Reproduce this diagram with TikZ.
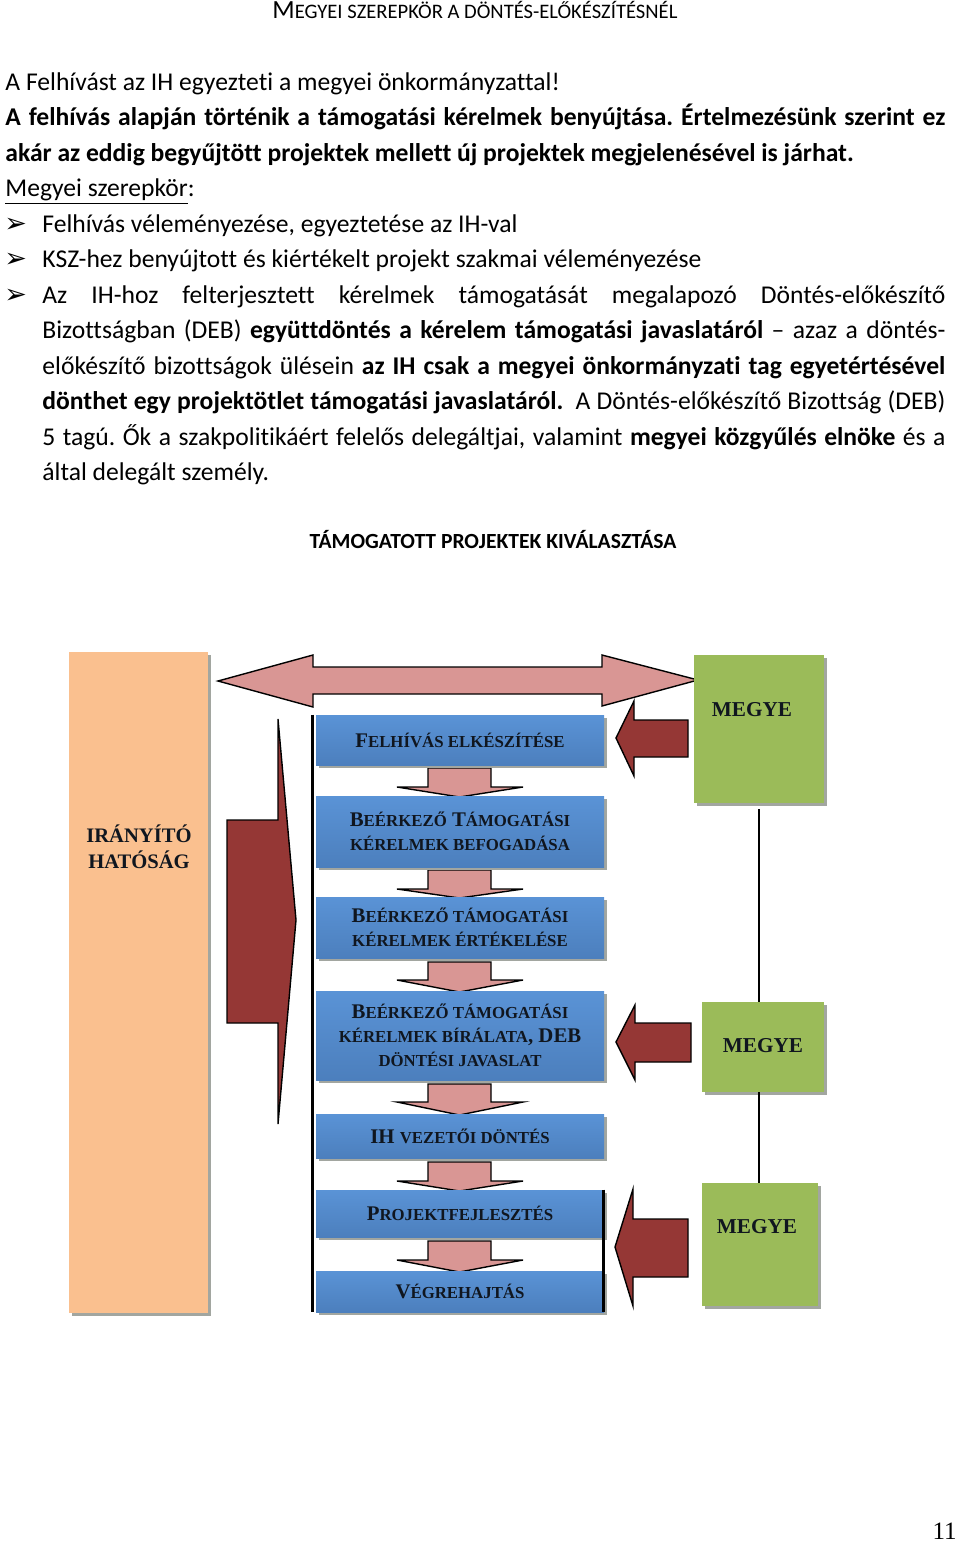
\documentclass[tikz,border=0pt]{standalone}
\usepackage{fontspec}
\setmainfont{Carlito}[Ligatures={NoCommon}]
\newfontfamily\tnr{Liberation Serif}
\newfontfamily\dejavu{DejaVu Sans}
\usetikzlibrary{shadows}
\frenchspacing
\definecolor{peach}{HTML}{FAC08F}
\definecolor{pinkarrow}{HTML}{D99694}
\definecolor{darkred}{HTML}{953735}
\definecolor{megyegreen}{HTML}{9BBB59}
\definecolor{blueT}{HTML}{5A93D6}
\definecolor{blueB}{HTML}{4C7FBD}
\definecolor{shadowgray}{HTML}{A2A6A0}
\definecolor{navytext}{HTML}{10161F}
\newcommand\BC[1]{{\fontsize{10.4}{12}\selectfont #1}}
\newcommand\SC[1]{{\fontsize{8.4}{12}\selectfont #1}}
\tikzset{
  body/.style={anchor=base west, inner sep=0pt, font=\fontsize{12.8}{14}\selectfont},
  bul/.style={anchor=base west, inner sep=0pt, font=\dejavu\bfseries\fontsize{13.5}{14}\selectfont},
  shd/.style={general shadow={shadow xshift=1.5pt, shadow yshift=-1.6pt, fill=shadowgray}},
  bbox/.style={shd, top color=blueT, bottom color=blueB, draw=none, minimum width=144pt,
    inner sep=0pt, align=center, text=navytext, font=\tnr\bfseries\fontsize{10.4}{12}\selectfont},
  gbox/.style={shd, fill=megyegreen, draw=none, inner sep=0pt},
  gtext/.style={inner sep=0pt, text=navytext, font=\tnr\bfseries\fontsize{10.6}{13}\selectfont},
  pinkarr/.style={fill=pinkarrow, draw=black, line width=0.7pt, line join=miter},
  redarr/.style={fill=darkred, draw=black, line width=0.7pt, line join=miter},
}
\begin{document}
\begin{tikzpicture}[x=0.5pt,y=-0.5pt]
\useasboundingbox (0,0) rectangle (960,1543);

% ---------- text part ----------
\node[anchor=base, inner sep=0pt] (title) at (475,18)
  {{\fontsize{13.1}{15}\selectfont M}{\fontsize{10.3}{15}\selectfont EGYEI SZEREPKÖR A DÖNTÉS-ELŐKÉSZÍTÉSNÉL}};

\node[body] (l1) at (5,90) {A Felhívást az IH egyezteti a megyei önkormányzattal!};
\node[body] (l2) at (5,125.5) {\bfseries\makebox[470pt][s]{A felhívás alapján történik a támogatási kérelmek benyújtása. Értelmezésünk szerint ez}};
\node[body] (l3) at (5,161) {\bfseries akár az eddig begyűjtött projektek mellett új projektek megjelenésével is járhat.};
\node[body] (l4) at (5,196.5) {\underline{Megyei szerepkör}:};

\node[bul] (b1) at (4,232) {➢};
\node[body] (t1) at (42,232) {Felhívás véleményezése, egyeztetése az IH-val};
\node[bul] (b2) at (4,267.5) {➢};
\node[body] (t2) at (42,267.5) {KSZ-hez benyújtott és kiértékelt projekt szakmai véleményezése};
\node[bul] (b3) at (4,303) {➢};
\node[body] (t3a) at (42,303) {\makebox[451.5pt][s]{Az IH-hoz felterjesztett kérelmek támogatását megalapozó Döntés-előkészítő}};
\node[body] (t3b) at (42,338.5) {\makebox[451.5pt][s]{Bizottságban (DEB) \textbf{együttdöntés a kérelem támogatási javaslatáról} – azaz a döntés-}};
\node[body] (t3c) at (42,374) {\makebox[451.5pt][s]{előkészítő bizottságok ülésein \textbf{az IH csak a megyei önkormányzati tag egyetértésével}}};
\node[body] (t3d) at (42,409.5) {\makebox[451.5pt][s]{\textbf{dönthet egy projektötlet támogatási javaslatáról.}\ \ A Döntés-előkészítő Bizottság (DEB)}};
\node[body] (t3e) at (42,445) {\makebox[451.5pt][s]{5 tagú. Ők a szakpolitikáért felelős delegáltjai, valamint \textbf{megyei közgyűlés elnöke} és a}};
\node[body] (t3f) at (42,480.5) {által delegált személy.};

\node[anchor=base, inner sep=0pt, font=\bfseries\fontsize{10.8}{13}\selectfont] (subtitle) at (493,548)
  {TÁMOGATOTT PROJEKTEK KIVÁLASZTÁSA};

% ---------- diagram ----------
% Irányító hatóság
\node[shd, fill=peach, draw=none, minimum width=69.5pt, minimum height=330.5pt, inner sep=0pt] (ih) at (138.5,982.5) {};
\node[inner sep=0pt, align=center, text=navytext, font=\tnr\bfseries\fontsize{10.3}{13}\selectfont] (ihtext) at (139,847) {IRÁNYÍTÓ\\HATÓSÁG};

% double arrow
\draw[pinkarr] (218,681) -- (313,655) -- (313,667) -- (602,667) -- (602,655) -- (698,680)
  -- (602,706) -- (602,694) -- (313,694) -- (313,707) -- cycle;

% big bent arrow on the left
\draw[redarr] (227,820) -- (278,820) -- (278,719) -- (296,920) -- (278,1124) -- (278,1023) -- (227,1023) -- cycle;

% pink down arrows between boxes
\foreach \a/\b/\c in {768/787/797, 870/889/898, 962/980/992, 1084/1102/1115, 1162/1181/1191, 1241/1260/1272}{
  \draw[pinkarr] (428,\a) -- (491,\a) -- (491,\b) -- (523,\b) -- (459.5,\c) -- (397,\b) -- (428,\b) -- cycle;
}

% blue process boxes
\node[bbox, minimum height=25pt] (s1) at (460,740) {\BC{F}\SC{ELHÍVÁS ELKÉSZÍTÉSE}};
\node[bbox, minimum height=35.5pt] (s2) at (460,831.5) {\BC{B}\SC{EÉRKEZŐ} \BC{T}\SC{ÁMOGATÁSI}\\\SC{KÉRELMEK BEFOGADÁSA}};
\node[bbox, minimum height=30.5pt] (s3) at (460,927.5) {\BC{B}\SC{EÉRKEZŐ TÁMOGATÁSI}\\\SC{KÉRELMEK ÉRTÉKELÉSE}};
\node[bbox, minimum height=44.5pt] (s4) at (460,1035.5) {\BC{B}\SC{EÉRKEZŐ TÁMOGATÁSI}\\\SC{KÉRELMEK BÍRÁLATA}, \BC{DEB}\\\SC{DÖNTÉSI JAVASLAT}};
\node[bbox, minimum height=22pt] (s5) at (460,1136) {\BC{IH} \SC{VEZETŐI DÖNTÉS}};
\node[bbox, minimum height=23.5pt] (s6) at (460,1213.5) {\BC{P}\SC{ROJEKTFEJLESZTÉS}};
\node[bbox, minimum height=20.5pt] (s7) at (460,1291.5) {\BC{V}\SC{ÉGREHAJTÁS}};

% black side bars
\draw[line width=1.8pt] (s1.north west) ++(-3,0) coordinate (lt) -- (lt |- s7.south);
\draw[line width=1.8pt] (s6.north east) ++(-1,0) coordinate (rt) -- (rt |- s7.south);

% MEGYE boxes
\node[gbox, minimum width=65pt, minimum height=74pt] (m1) at (759,729) {};
\node[gtext] (m1t) at (752,710) {MEGYE};
\node[gbox, minimum width=61pt, minimum height=45pt] (m2) at (763,1047) {};
\node[gtext] (m2t) at (763,1046) {MEGYE};
\node[gbox, minimum width=58pt, minimum height=61.5pt] (m3) at (760,1244.5) {};
\node[gtext] (m3t) at (757,1227) {MEGYE};

% connecting lines
\draw[line width=0.7pt] ([yshift=-3pt]m1.south) -- (m1.south |- m2.north);
\draw[line width=0.7pt] (m1.south |- m2.south) -- (m1.south |- m3.north);

% red arrows from MEGYE
\draw[redarr] (616,738) -- (634,701) -- (634,720) -- (688,720) -- (688,757) -- (634,757) -- (634,776) -- cycle;
\draw[redarr] (616,1042) -- (635,1005) -- (635,1023) -- (691,1023) -- (691,1062) -- (635,1062) -- (635,1080) -- cycle;
\draw[redarr] (615,1247) -- (633,1189) -- (633,1219) -- (688,1219) -- (688,1277) -- (633,1277) -- (633,1306) -- cycle;

% page number
\node[anchor=base east, inner sep=0pt, font=\tnr\fontsize{12.5}{15}\selectfont] (pg) at (957,1539) {11};
\end{tikzpicture}
\end{document}
